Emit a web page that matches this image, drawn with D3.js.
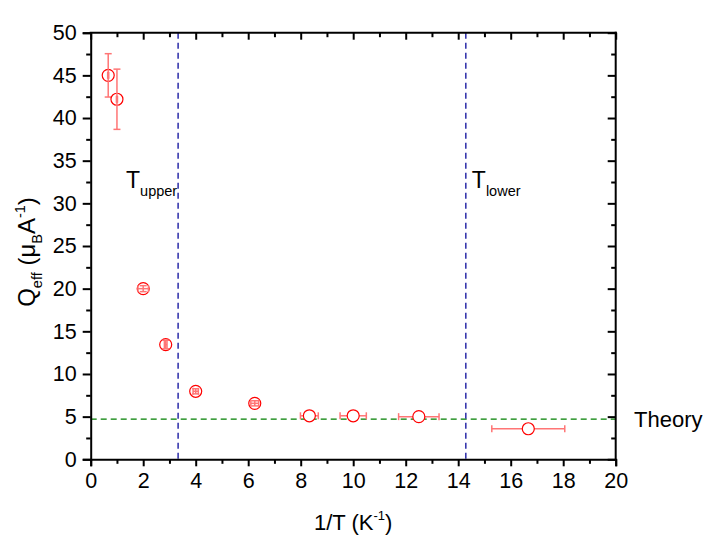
<!DOCTYPE html>
<html><head><meta charset="utf-8">
<script src="https://cdn.jsdelivr.net/npm/d3@7"></script>
<style>body{margin:0;background:#fff}svg{display:block}text{font-family:"Liberation Sans",Arial,sans-serif}</style>
</head><body>
<svg id="c" width="706" height="541"></svg>
<script>
// data
const invT   = [0.667, 1.0, 2.0, 2.857, 4.0, 6.25, 8.33, 10.0, 12.5, 16.67];
const qEff   = [45.0, 42.2, 20.0, 13.45, 7.97, 6.56, 5.1, 5.1, 5.0, 3.58];
const yErr   = [2.54, 3.53, 0.35, 0.5, 0.3, 0.3, 0.2, 0.2, 0.35, 0.1];
const xErr   = [0.02, 0.02, 0.2, 0.05, 0.1, 0.15, 0.34, 0.5, 0.77, 1.39];
const vLines = [3.33, 14.29];
const vLabels = [["T","upper"],["T","lower"]];
const theory = 4.7;
const xTicks = d3.range(0, 21, 2);
const yTicks = d3.range(0, 51, 5);

(function(){
const svg = d3.select("#c");
const L=90.7, R=615.7, T=32.7, B=459.3;
const x = d3.scaleLinear().domain([0,20]).range([L,R]);
const y = d3.scaleLinear().domain([0,50]).range([B,T]);

// reference lines
svg.append("line").attr("x1",x(0)).attr("x2",x(20)).attr("y1",y(theory)).attr("y2",y(theory))
  .attr("stroke","#007f00").attr("stroke-width",1.2).attr("stroke-dasharray","6,4");
vLines.forEach((v,i)=>{
  svg.append("line").attr("x1",x(v)).attr("x2",x(v)).attr("y1",y(50)).attr("y2",y(0))
    .attr("stroke","#2b2ba8").attr("stroke-width",1.5).attr("stroke-dasharray","6,4");
});

// data points
const r = 6, cap = 3.5;
const ec = "#ff7575";
const pts = svg.append("g");
invT.forEach((xv,i)=>{
  const cx=x(xv), cy=y(qEff[i]);
  const g = pts.append("g");
  const big = (x(xv+xErr[i])-cx) > r+2;
  const drawBars = (gg)=>{
    const y1=y(qEff[i]+yErr[i]), y2=y(qEff[i]-yErr[i]);
    gg.append("line").attr("x1",cx).attr("x2",cx).attr("y1",y1).attr("y2",y2);
    gg.append("line").attr("x1",cx-cap).attr("x2",cx+cap).attr("y1",y1).attr("y2",y1);
    gg.append("line").attr("x1",cx-cap).attr("x2",cx+cap).attr("y1",y2).attr("y2",y2);
    const x1=x(xv-xErr[i]), x2=x(xv+xErr[i]);
    gg.append("line").attr("x1",x1).attr("x2",x2).attr("y1",cy).attr("y2",cy);
    gg.append("line").attr("x1",x1).attr("x2",x1).attr("y1",cy-cap).attr("y2",cy+cap);
    gg.append("line").attr("x1",x2).attr("x2",x2).attr("y1",cy-cap).attr("y2",cy+cap);
    gg.selectAll("line").attr("stroke",ec).attr("stroke-width",1.5);
  };
  if(big){
    drawBars(g.append("g"));
    g.append("circle").attr("cx",cx).attr("cy",cy).attr("r",r).attr("fill","#fff").attr("stroke","#ff0000").attr("stroke-width",1.2);
  } else {
    g.append("circle").attr("cx",cx).attr("cy",cy).attr("r",r).attr("fill","none").attr("stroke","#ff0000").attr("stroke-width",1.2);
    drawBars(g.append("g"));
  }
});

// axes
const fs = 21.5;
const axB = svg.append("g").attr("transform",`translate(0,${B})`)
  .call(d3.axisBottom(x).tickValues(xTicks).tickSize(7).tickPadding(6).tickFormat(d3.format("d")));
const axBm = svg.append("g").attr("transform",`translate(0,${B})`)
  .call(d3.axisBottom(x).tickValues(d3.range(1,20,2)).tickSize(4.5).tickFormat(""));
const axL = svg.append("g").attr("transform",`translate(${L},0)`)
  .call(d3.axisLeft(y).tickValues(yTicks).tickSize(8).tickPadding(6).tickFormat(d3.format("d")));
const axLm = svg.append("g").attr("transform",`translate(${L},0)`)
  .call(d3.axisLeft(y).tickValues(d3.range(2.5,50,5)).tickSize(4.5).tickFormat(""));
const axT = svg.append("g").attr("transform",`translate(0,${T})`)
  .call(d3.axisBottom(x).tickValues(xTicks).tickSize(7).tickFormat(""));
const axTm = svg.append("g").attr("transform",`translate(0,${T})`)
  .call(d3.axisBottom(x).tickValues(d3.range(1,20,2)).tickSize(4.5).tickFormat(""));
const axR = svg.append("g").attr("transform",`translate(${R},0)`)
  .call(d3.axisLeft(y).tickValues(yTicks).tickSize(8).tickFormat(""));
const axRm = svg.append("g").attr("transform",`translate(${R},0)`)
  .call(d3.axisLeft(y).tickValues(d3.range(2.5,50,5)).tickSize(4.5).tickFormat(""));
[axB,axBm,axL,axLm,axT,axTm,axR,axRm].forEach(g=>{
  g.selectAll(".domain").attr("stroke","#000").attr("stroke-width",2);
  g.selectAll(".tick line").attr("stroke","#000").attr("stroke-width",2);
  g.selectAll("text").attr("font-size",fs).attr("fill","#000").attr("font-family","Liberation Sans, Arial, sans-serif");
});
[axT,axTm,axR,axRm,axBm,axLm].forEach(g=>g.selectAll(".domain").remove());
// frame lines
svg.append("line").attr("x1",L-1).attr("x2",R+1).attr("y1",T).attr("y2",T).attr("stroke","#000").attr("stroke-width",2);
svg.append("line").attr("x1",R).attr("x2",R).attr("y1",T-1).attr("y2",B+1).attr("stroke","#000").attr("stroke-width",2);

// labels on vertical lines
const labX = [126, x(vLines[1])+6];
vLines.forEach((v,i)=>{
  const t = svg.append("text").attr("x",labX[i]).attr("y",188).attr("font-size",23);
  t.append("tspan").text(vLabels[i][0]);
  t.append("tspan").attr("font-size",14.5).attr("dy",8).text(vLabels[i][1]);
});

// Theory label
svg.append("text").attr("x",634).attr("y",427).attr("font-size",22).text("Theory");

// x title
const xt = svg.append("text").attr("x",(L+R)/2).attr("y",530).attr("text-anchor","middle").attr("font-size",22);
xt.append("tspan").text("1/T (K");
xt.append("tspan").attr("font-size",13).attr("dy",-10).text("-1");
xt.append("tspan").attr("dy",10).text(")");

// y title
const yt = svg.append("text").attr("transform",`translate(35,252) rotate(-90)`).attr("text-anchor","middle").attr("font-size",24);
yt.append("tspan").text("Q");
yt.append("tspan").attr("font-size",14.5).attr("dy",7).text("eff");
yt.append("tspan").attr("dy",-7).text(" (\u03bc");
yt.append("tspan").attr("font-size",14.5).attr("dy",7).text("B");
yt.append("tspan").attr("dy",-7).text("A");
yt.append("tspan").attr("font-size",14.5).attr("dy",-10).text("-1");
yt.append("tspan").attr("dy",10).text(")");
})();
</script>
</body></html>
